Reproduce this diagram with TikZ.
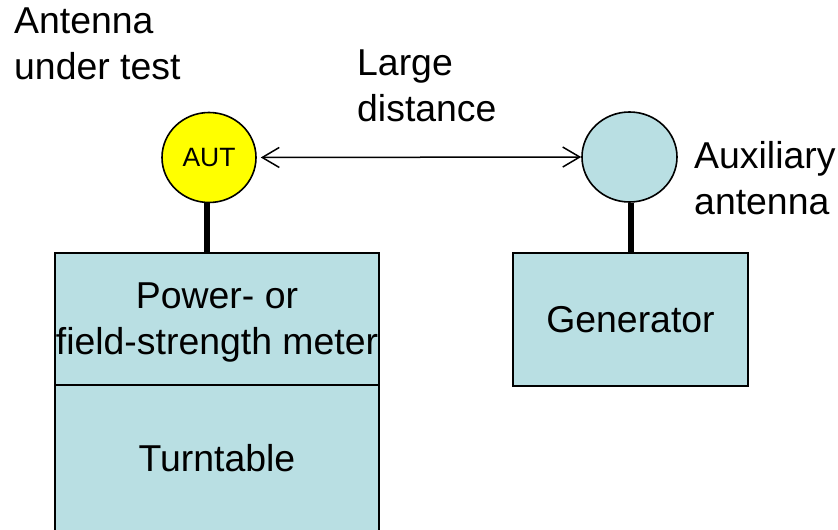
\documentclass[tikz,border=0pt]{standalone}
\usepackage{fontspec}
\setmainfont{Liberation Sans}
\usetikzlibrary{shapes.geometric,arrows.meta}
\definecolor{boxblue}{RGB}{185,223,227}
\definecolor{autyellow}{RGB}{255,255,0}
\begin{document}
\begin{tikzpicture}[x=1pt,y=-1pt,
  bigfont/.style={font=\fontsize{37.4pt}{46pt}\selectfont},
  txtlabel/.style={bigfont,align=left,anchor=north west,inner sep=0pt},
  antenna/.style={ellipse,draw=black,line width=1.6pt,inner sep=0pt},
  unitbox/.style={rectangle,draw=black,line width=1.5pt,fill=boxblue,inner sep=0pt,bigfont,align=center},
  stem/.style={line width=6pt},
  link/.style={line width=1.5pt,{Straight Barb[length=17pt,width=20pt,line width=1.5pt]}-{Straight Barb[length=17pt,width=20pt,line width=1.5pt]}}
]
\useasboundingbox[fill=white] (0,0) rectangle (838,530);

% boxes
\node[unitbox,minimum width=324pt,minimum height=146pt] (tt) at (217,458) {Turntable};
\node[unitbox,minimum width=324pt,minimum height=132pt] (pm) at (217,319) {};
\node[bigfont,align=center,inner sep=0pt] (pmtext) at (217,323) {Power- or\\field-strength meter};
\node[unitbox,minimum width=235pt,minimum height=133pt] (gen) at (630.5,319.5) {Generator};

% antennas
\node[antenna,fill=autyellow,minimum width=94pt,minimum height=90pt,font=\fontsize{26.5pt}{30pt}\selectfont] (aut) at (209,157.5) {AUT};
\node[antenna,fill=boxblue,minimum width=95pt,minimum height=90pt] (aux) at (629.5,157) {};

% stems
\draw[stem] (aut.south -| 207,0) -- (207,0 |- pm.north);
\draw[stem] (aux.south -| 631,0) -- (631,0 |- gen.north);

% distance arrow
\draw[link,shorten <=4pt] (aut.east) -- (aux.west);

% labels
\node[txtlabel] (lblaut) at (14,8) {Antenna\\under test};
\node[txtlabel] (lbldist) at (357,50) {Large\\distance};
\node[txtlabel] (lblaux) at (694,141.5) {Auxiliary\\antenna};
\end{tikzpicture}
\end{document}
